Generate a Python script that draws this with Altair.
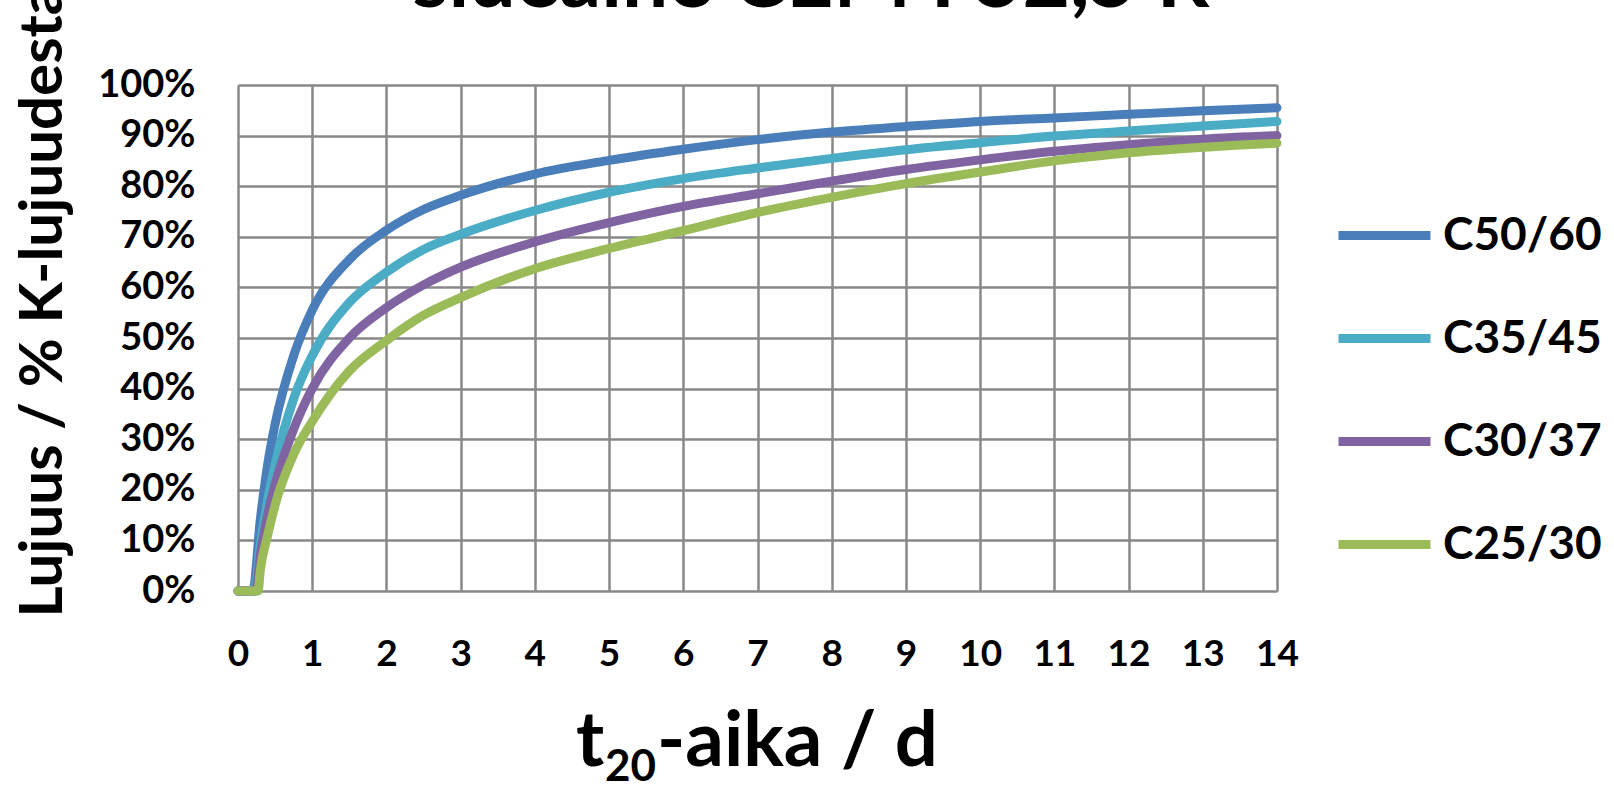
import altair as alt
import pandas as pd

series_names = ["C50/60", "C35/45", "C30/37", "C25/30"]
series_colors = ["#4A7EBB", "#4BACC6", "#8064A2", "#9BBB59"]

t_c50 = [0, 0.2, 0.3, 0.4, 0.5, 0.75, 1, 1.5, 2, 2.5, 3, 4, 5, 6, 7, 8, 9, 10, 11, 12, 13, 14]
v_c50 = [0, 0, 0.14, 0.25, 0.33, 0.465, 0.555, 0.655, 0.713, 0.754, 0.782, 0.824, 0.851, 0.873, 0.892, 0.907, 0.918, 0.928, 0.935, 0.942, 0.949, 0.955]

t_c35 = [0, 0.22, 0.3, 0.4, 0.5, 0.75, 1, 1.5, 2, 2.5, 3, 4, 5, 6, 7, 8, 9, 10, 11, 12, 13, 14]
v_c35 = [0, 0, 0.09, 0.18, 0.25, 0.38, 0.465, 0.57, 0.63, 0.675, 0.705, 0.752, 0.788, 0.815, 0.836, 0.855, 0.872, 0.886, 0.899, 0.909, 0.919, 0.928]

t_c30 = [0, 0.24, 0.3, 0.4, 0.5, 0.75, 1, 1.5, 2, 2.5, 3, 4, 5, 6, 7, 8, 9, 10, 11, 12, 13, 14]
v_c30 = [0, 0, 0.07, 0.15, 0.21, 0.32, 0.40, 0.50, 0.56, 0.605, 0.64, 0.69, 0.728, 0.76, 0.785, 0.81, 0.833, 0.852, 0.869, 0.882, 0.893, 0.90]

t_c25 = [0, 0.27, 0.3, 0.4, 0.5, 0.75, 1, 1.5, 2, 2.5, 3, 4, 5, 6, 7, 8, 9, 10, 11, 12, 13, 14]
v_c25 = [0, 0, 0.04, 0.11, 0.17, 0.27, 0.335, 0.435, 0.495, 0.545, 0.58, 0.637, 0.677, 0.712, 0.748, 0.778, 0.805, 0.828, 0.85, 0.866, 0.877, 0.885]

x_ticks = list(range(0, 15))
y_ticks = [i / 10 for i in range(0, 11)]

title_text = "sideaine CEM I 52,5 R"
x_title_parts = ["t", "20", "-aika / d"]
y_title = "Lujuus / % K-lujuudesta"

rows = []
for name, ts, vs in zip(series_names, [t_c50, t_c35, t_c30, t_c25], [v_c50, v_c35, v_c30, v_c25]):
    for t, v in zip(ts, vs):
        rows.append({"series": name, "t": t, "v": v})
df = pd.DataFrame(rows)

FONT = "Lato"
GRID = "#888888"
W, H = 1039, 506

lines = alt.Chart(df).mark_line(strokeWidth=9, strokeCap="round", strokeJoin="round", interpolate="monotone").encode(
    x=alt.X("t:Q",
            scale=alt.Scale(domain=[0, 14], nice=False, zero=False),
            axis=alt.Axis(values=x_ticks, title=None, grid=True, gridColor=GRID, gridWidth=2.5, gridOpacity=1,
                          domain=False, ticks=False, labelFont=FONT, labelFontSize=37, labelFontWeight="bold",
                          labelColor="black", labelPadding=45, labelFlush=False)),
    y=alt.Y("v:Q",
            scale=alt.Scale(domain=[0, 1], nice=False),
            axis=alt.Axis(values=y_ticks, format=".0%", title=y_title, grid=True, gridColor=GRID, gridWidth=2.5,
                          gridOpacity=1, domain=False, ticks=False, labelFont=FONT, labelFontSize=38,
                          labelFontWeight="bold", labelColor="black", labelPadding=43, labelFlush=False,
                          titleFont=FONT, titleFontSize=60, titleFontWeight="bold", titleColor="black",
                          titleAngle=270, titleX=-177, titleY=532, titleAlign="left", titleBaseline="alphabetic")),
    color=alt.Color("series:N",
                    scale=alt.Scale(domain=series_names, range=series_colors),
                    legend=alt.Legend(title=None, orient="none", legendX=1096, legendY=100,
                                      symbolType="stroke", symbolSize=8464, symbolStrokeWidth=9,
                                      labelFont=FONT, labelFontSize=46, labelFontWeight="bold",
                                      labelColor="black", labelOffset=8, rowPadding=29, padding=0)),
    order=alt.Order("t:Q"),
)

title = alt.Chart(pd.DataFrame({"label": [title_text]})).mark_text(
    font=FONT, fontSize=82, fontWeight="bold", color="black", align="center", baseline="alphabetic"
).encode(text="label:N", x=alt.value(573), y=alt.value(-78))

xt_main = alt.Chart(pd.DataFrame({"label": [x_title_parts[0]]})).mark_text(
    font=FONT, fontSize=76, fontWeight="bold", color="black", align="left", baseline="alphabetic"
).encode(text="label:N", x=alt.value(338), y=alt.value(H + 175))

xt_sub = alt.Chart(pd.DataFrame({"label": [x_title_parts[1]]})).mark_text(
    font=FONT, fontSize=44, fontWeight="bold", color="black", align="left", baseline="alphabetic"
).encode(text="label:N", x=alt.value(367), y=alt.value(H + 190))

xt_rest = alt.Chart(pd.DataFrame({"label": [x_title_parts[2]]})).mark_text(
    font=FONT, fontSize=76, fontWeight="bold", color="black", align="left", baseline="alphabetic"
).encode(text="label:N", x=alt.value(419), y=alt.value(H + 175))

chart = alt.layer(lines, title, xt_main, xt_sub, xt_rest).properties(
    width=W, height=H,
    autosize=alt.AutoSizeParams(type="none"),
    padding={"left": 238, "top": 85, "right": 337, "bottom": 198},
).configure_view(stroke=GRID, strokeWidth=2.5).configure(background="white")

chart.save("out.html", embed_options={"renderer": "svg", "actions": False})
